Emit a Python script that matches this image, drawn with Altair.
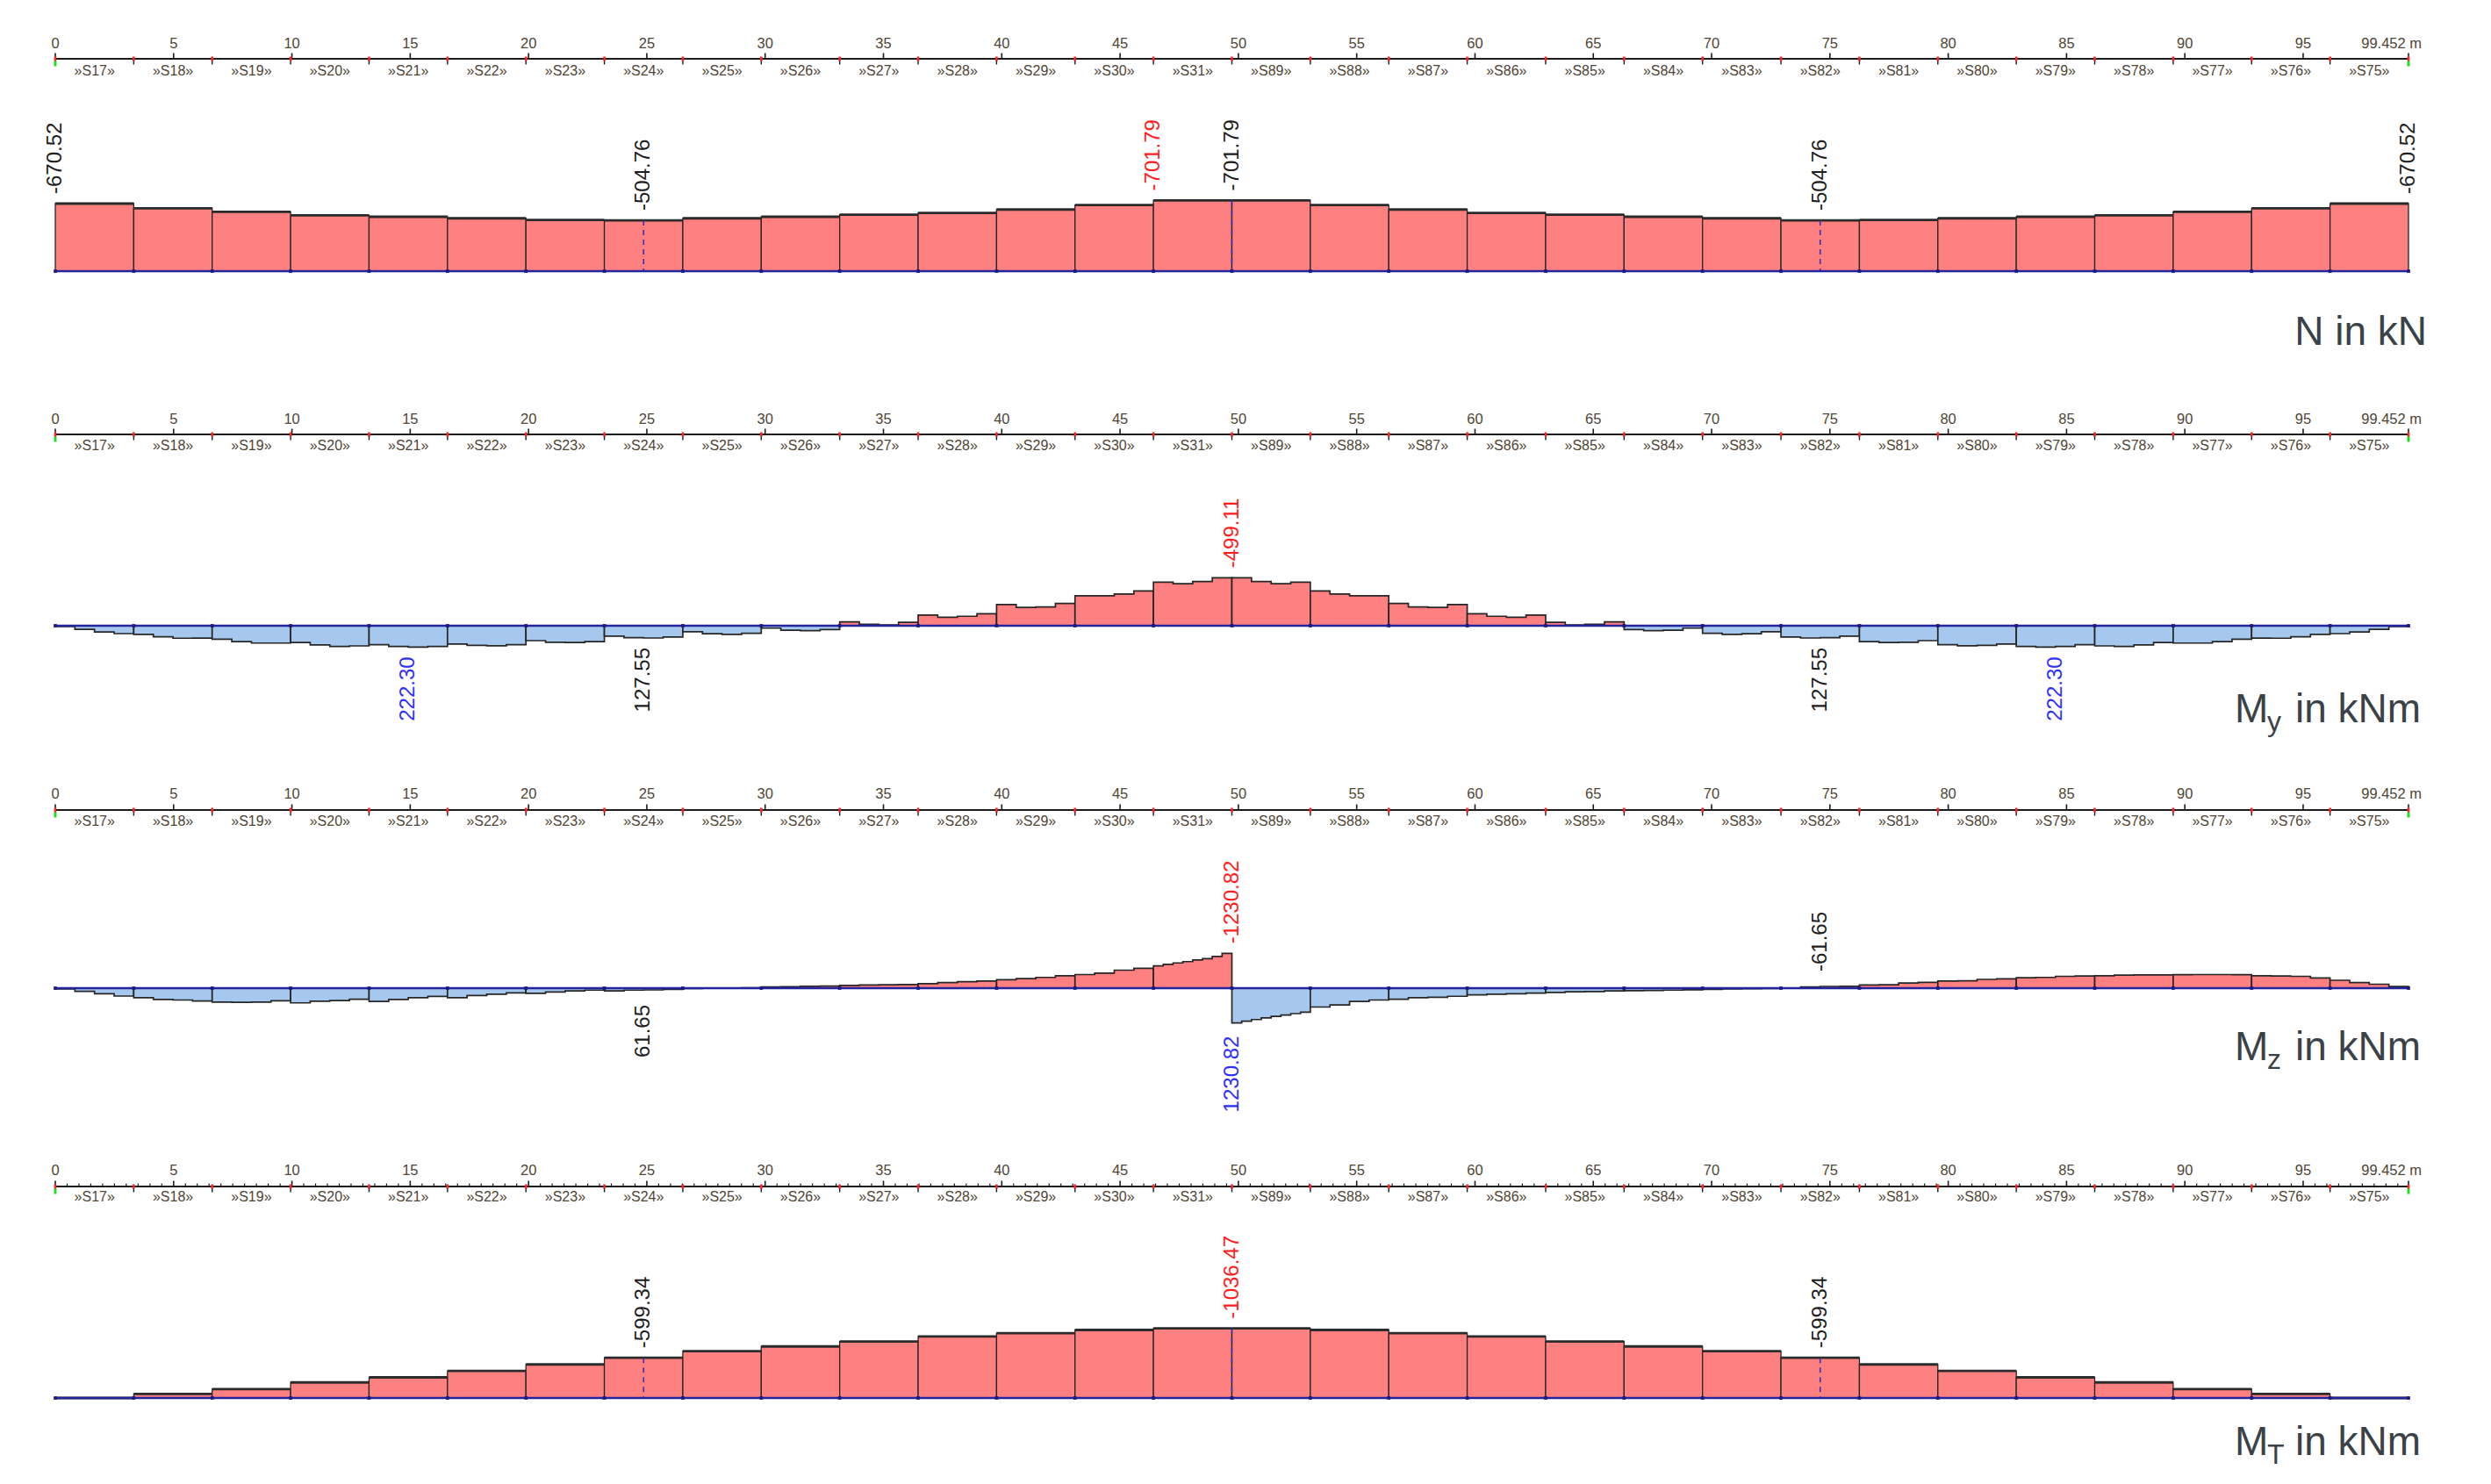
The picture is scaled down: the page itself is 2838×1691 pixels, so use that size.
import altair as alt
import pandas as pd

# ---------------- data ----------------
L = 99.452
SEGMENTS = ["S17", "S18", "S19", "S20", "S21", "S22", "S23", "S24", "S25", "S26",
            "S27", "S28", "S29", "S30", "S31", "S89", "S88", "S87", "S86", "S85",
            "S84", "S83", "S82", "S81", "S80", "S79", "S78", "S77", "S76", "S75"]
TICKS = [0, 5, 10, 15, 20, 25, 30, 35, 40, 45, 50, 55, 60, 65, 70, 75, 80, 85, 90, 95]
TICK_LABELS = ["0", "5", "10", "15", "20", "25", "30", "35", "40", "45", "50", "55",
               "60", "65", "70", "75", "80", "85", "90", "95"]
END_TICK = 99.452
END_LABEL = "99.452 m"

N_VALUES = [-670.52, -624, -589, -555, -540, -525, -508, -504.76, -525, -540,
            -560, -578, -612, -656, -701.79, -701.79, -656, -612, -578, -560,
            -540, -525, -504.76, -508, -525, -540, -555, -589, -624, -670.52]

MT_VALUES = [0, -61, -132, -232, -307, -403, -500, -599.34, -697, -768,
             -842, -917, -965, -1013, -1036.47, -1036.47, -1013, -965, -917, -842,
             -768, -697, -599.34, -500, -403, -307, -232, -132, -61, 0]

MY_VALUES = [
    [8, 38, 65, 82], [90, 115, 130, 128], [140, 165, 180, 180], [175, 200, 215, 210],
    [198, 215, 222.30, 215], [190, 205, 208, 198], [155, 172, 175, 165],
    [108, 124, 127.55, 118], [62, 84, 90, 78], [25, 47, 52, 40],
    [-40, -15, -8, -35], [-110, -88, -98, -125], [-220, -190, -195, -232],
    [-312, -312, -330, -362], [-452, -436, -460, -499.11],
    [-499.11, -460, -436, -452], [-362, -330, -312, -312], [-232, -195, -190, -220],
    [-125, -98, -88, -110], [-35, -8, -15, -40], [40, 52, 47, 25], [78, 90, 84, 62],
    [118, 127.55, 124, 108], [165, 175, 172, 155], [198, 208, 205, 190],
    [215, 222.30, 215, 198], [210, 215, 200, 175], [180, 180, 165, 140],
    [128, 130, 115, 90], [82, 65, 38, 8],
]

MZ_VALUES = [
    [30, 110, 200, 280], [340, 400, 420, 455], [490, 500, 490, 445], [520, 460, 440, 390],
    [470, 400, 340, 290], [340, 260, 215, 170], [185, 135, 100, 70], [95, 70, 61.65, 45],
    [15, 5, 0, -10], [-40, -55, -65, -75], [-95, -110, -120, -130],
    [-160, -200, -230, -250], [-300, -340, -380, -440], [-482, -533, -636, -700],
    [-790, -840, -893, -940, -995, -1046, -1120, -1230.82],
    [1230.82, 1170, 1110, 1050, 1000, 950, 900, 850],
    [667, 595, 472, 420], [390, 339, 320, 287], [236, 215, 200, 175],
    [150, 130, 120, 100], [90, 80, 70, 60], [40, 30, 20, 10], [0, -40, -61.65, -65],
    [-110, -120, -180, -205], [-250, -260, -310, -330], [-370, -380, -420, -430],
    [-440, -460, -470, -470], [-480, -482, -482, -480], [-440, -430, -420, -360],
    [-280, -200, -140, -60],
]

N_LAB_X = [0, 24.863, 46.411, 49.726, 74.589, 99.452]
N_LAB_V = [-670.52, -504.76, -701.79, -701.79, -504.76, -670.52]
N_LAB_T = ["-670.52", "-504.76", "-701.79", "-701.79", "-504.76", "-670.52"]
N_LAB_C = ["black", "black", "red", "black", "black", "black"]

MY_LAB_X = [14.918, 24.863, 49.726, 74.589, 84.534]
MY_LAB_V = [222.30, 127.55, -499.11, 127.55, 222.30]
MY_LAB_T = ["222.30", "127.55", "-499.11", "127.55", "222.30"]
MY_LAB_C = ["blue", "black", "red", "black", "blue"]

MZ_LAB_X = [24.863, 49.726, 49.726, 74.589]
MZ_LAB_V = [61.65, -1230.82, 1230.82, -61.65]
MZ_LAB_T = ["61.65", "-1230.82", "1230.82", "-61.65"]
MZ_LAB_C = ["black", "red", "blue", "black"]

MT_LAB_X = [24.863, 49.726, 74.589]
MT_LAB_V = [-599.34, -1036.47, -599.34]
MT_LAB_T = ["-599.34", "-1036.47", "-599.34"]
MT_LAB_C = ["black", "red", "black"]

# ---------------- style / layout ----------------
FONT = "Liberation Sans"
W, H = 2681, 1670
SEG_LEN = L / len(SEGMENTS)
RED = "#ff8080"
BLUE = "#a6c8ee"
OUT = "#262626"
BASE = "#24249c"
TITLE_C = "#3b4247"
RULER_TXT = "#4f4536"
LAB_COLORS = {"black": "#1e1e1e", "red": "#ff1e1e", "blue": "#2f2fff"}

XS = alt.Scale(domain=[0, L], nice=False, zero=False)


def xq(field):
    return alt.X(field, type="quantitative", scale=XS, axis=None)


def yscale(base, k):
    return alt.Scale(domain=[-base / k, (H - base) / k], reverse=True, nice=False, zero=False)


def ruler(y_lab, y_line, y_seg, minor):
    out = []
    line_df = pd.DataFrame({"x0": [0.0], "x1": [L]})
    out.append(alt.Chart(line_df).mark_rule(color="#1c1c1c", strokeWidth=2).encode(
        x=xq("x0"), x2="x1", y=alt.value(y_line)))
    if minor:
        mdf = pd.DataFrame({"x": [i * 0.5 for i in range(1, 199) if i % 10]})
        out.append(alt.Chart(mdf).mark_rule(color="#1c1c1c", strokeWidth=1.2).encode(
            x=xq("x"), y=alt.value(y_line - 3.5), y2=alt.value(y_line)))
    tdf = pd.DataFrame({"x": TICKS + [END_TICK], "t": TICK_LABELS + [END_LABEL]})
    out.append(alt.Chart(tdf).mark_rule(color="#1c1c1c", strokeWidth=1.6).encode(
        x=xq("x"), y=alt.value(y_line - 6.5), y2=alt.value(y_line)))
    out.append(alt.Chart(tdf.iloc[:-1]).mark_text(
        font=FONT, fontSize=16.5, color=RULER_TXT, align="center", baseline="middle").encode(
        x=xq("x"), y=alt.value(y_lab), text="t:N"))
    out.append(alt.Chart(tdf.iloc[-1:]).mark_text(
        font=FONT, fontSize=16.5, color=RULER_TXT, align="right", baseline="middle", dx=15).encode(
        x=xq("x"), y=alt.value(y_lab), text="t:N"))
    bdf = pd.DataFrame({"x": [i * SEG_LEN for i in range(len(SEGMENTS) + 1)]})
    out.append(alt.Chart(bdf).mark_rule(color="#1c1c1c", strokeWidth=1.4).encode(
        x=xq("x"), y=alt.value(y_line), y2=alt.value(y_line + 6.5)))
    out.append(alt.Chart(bdf).mark_rule(color="#ff2424", strokeWidth=2.6).encode(
        x=xq("x"), y=alt.value(y_line - 2.5), y2=alt.value(y_line + 2.5)))
    gdf = pd.DataFrame({"x": [0.0, L]})
    out.append(alt.Chart(gdf).mark_rule(color="#22dd22", strokeWidth=3).encode(
        x=xq("x"), y=alt.value(y_line + 2.5), y2=alt.value(y_line + 8.5)))
    sdf = pd.DataFrame({"x": [(i + 0.5) * SEG_LEN for i in range(len(SEGMENTS))],
                        "t": ["\u00bb" + s + "\u00bb" for s in SEGMENTS]})
    out.append(alt.Chart(sdf).mark_text(
        font=FONT, fontSize=16, color=RULER_TXT, align="center", baseline="middle").encode(
        x=xq("x"), y=alt.value(y_seg), text="t:N"))
    return out


def label_layers(xs, vs, ts, cs, ys, gap_up=11, gap_down=11, special=None):
    df = pd.DataFrame({"x": xs, "v": vs, "t": ts, "c": [LAB_COLORS[c] for c in cs]})
    special = special or {}
    out = []
    for up in (True, False):
        sub = df[(df.v < 0) == up]
        if len(sub) == 0:
            continue
        normal = sub[~sub.t.isin(list(special))]
        groups = [(normal, gap_up if up else gap_down)]
        for t, g in special.items():
            groups.append((sub[sub.t == t], g))
        for part, g in groups:
            if len(part) == 0:
                continue
            out.append(alt.Chart(part).mark_text(
                font=FONT, fontSize=24, angle=270, baseline="middle",
                align="left" if up else "right", dx=g if up else -g).encode(
                x=xq("x"), y=alt.Y("v:Q", scale=ys, axis=None), text="t:N",
                color=alt.Color("c:N", scale=None)))
    return out


def baseline_layers(ys):
    line_df = pd.DataFrame({"x0": [0.0], "x1": [L]})
    bdf = pd.DataFrame({"x": [i * SEG_LEN for i in range(len(SEGMENTS) + 1)]})
    return [
        alt.Chart(line_df).mark_rule(color=BASE, strokeWidth=2.6).encode(
            x=xq("x0"), x2="x1", y=alt.Y(datum=0, scale=ys, axis=None)),
        alt.Chart(bdf).mark_square(color="#1a1a80", size=14, opacity=1).encode(
            x=xq("x"), y=alt.Y(datum=0, scale=ys, axis=None)),
    ]


def bar_panel(values, ys, lx, lv, lt, lc, markers):
    df = pd.DataFrame({"x0": [i * SEG_LEN for i in range(len(values))],
                       "x1": [(i + 1) * SEG_LEN for i in range(len(values))],
                       "v": values})
    out = [
        alt.Chart(df).mark_rect(fill=RED, stroke=OUT, strokeWidth=1.3).encode(
            x=xq("x0"), x2="x1", y=alt.Y("v:Q", scale=ys, axis=None), y2=alt.datum(0)),
        alt.Chart(df).mark_rule(color="#2b2b2b", strokeWidth=2.8).encode(
            x=xq("x0"), x2="x1", y=alt.Y("v:Q", scale=ys, axis=None)),
    ]
    mdf = pd.DataFrame({"x": [lx[i] for i in markers], "v": [lv[i] for i in markers]})
    out.append(alt.Chart(mdf).mark_rule(color="#3434b0", strokeWidth=1.6, strokeDash=[6, 5]).encode(
        x=xq("x"), y=alt.Y("v:Q", scale=ys, axis=None), y2=alt.datum(0)))
    out += baseline_layers(ys)
    out += label_layers(lx, lv, lt, lc, ys)
    return alt.layer(*out)


def curve_panel(values, ys, lx, lv, lt, lc, special=None):
    rows = []
    for i, vals in enumerate(values):
        m = len(vals)
        for j, v in enumerate(vals):
            rows.append((i, i * SEG_LEN + j * SEG_LEN / m, v))
        rows.append((i, (i + 1) * SEG_LEN, vals[-1]))
    df = pd.DataFrame(rows, columns=["seg", "x", "v"])
    df["neg"] = df["v"].clip(upper=0)
    df["pos"] = df["v"].clip(lower=0)
    out = []
    for field, col in (("neg", RED), ("pos", BLUE)):
        out.append(alt.Chart(df).mark_area(
            interpolate="step-after", fill=col, fillOpacity=1, stroke=OUT, strokeWidth=1.7).encode(
            x=xq("x"), y=alt.Y(field + ":Q", scale=ys, axis=None), y2=alt.datum(0),
            detail="seg:N"))
    out += baseline_layers(ys)
    out += label_layers(lx, lv, lt, lc, ys, special=special)
    return alt.layer(*out)


def title_layers(main, sub, y_base, x_right=2702):
    out = []
    if not sub:
        out.append(alt.Chart(pd.DataFrame({"t": [main]})).mark_text(
            font=FONT, fontSize=46, color=TITLE_C, align="right", baseline="alphabetic").encode(
            x=alt.value(x_right), y=alt.value(y_base), text="t:N"))
        return out
    out.append(alt.Chart(pd.DataFrame({"t": [main]})).mark_text(
        font=FONT, fontSize=46, color=TITLE_C, align="left", baseline="alphabetic").encode(
        x=alt.value(x_right - 219), y=alt.value(y_base), text="t:N"))
    out.append(alt.Chart(pd.DataFrame({"t": [sub]})).mark_text(
        font=FONT, fontSize=32, color=TITLE_C, align="left", baseline="alphabetic").encode(
        x=alt.value(x_right - 182), y=alt.value(y_base + 10), text="t:N"))
    out.append(alt.Chart(pd.DataFrame({"t": ["in kNm"]})).mark_text(
        font=FONT, fontSize=46, color=TITLE_C, align="left", baseline="alphabetic").encode(
        x=alt.value(x_right - 150), y=alt.value(y_base), text="t:N"))
    return out


ys1 = yscale(301, 0.1148)
ys2 = yscale(705, 0.1096)
ys3 = yscale(1118, 0.0322)
ys4 = yscale(1585, 0.0765)

layers = []
layers += ruler(42, 59, 73, False)
layers += ruler(470, 487, 500, False)
layers += ruler(897, 915, 928, False)
layers += ruler(1326, 1344, 1356, True)
layers.append(bar_panel(N_VALUES, ys1, N_LAB_X, N_LAB_V, N_LAB_T, N_LAB_C, [1, 3, 4]))
layers.append(curve_panel(MY_VALUES, ys2, MY_LAB_X, MY_LAB_V, MY_LAB_T, MY_LAB_C))
layers.append(curve_panel(MZ_VALUES, ys3, MZ_LAB_X, MZ_LAB_V, MZ_LAB_T, MZ_LAB_C,
                          special={"61.65": 17, "-61.65": 17, "1230.82": 15}))
layers.append(bar_panel(MT_VALUES, ys4, MT_LAB_X, MT_LAB_V, MT_LAB_T, MT_LAB_C, [0, 1, 2]))
layers += title_layers("N in kN", "", 385)
layers += title_layers("M", "y", 815)
layers += title_layers("M", "z", 1200)
layers += title_layers("M", "T", 1650)

chart = alt.layer(*layers).resolve_scale(y="independent").properties(
    width=W, height=H,
    autosize=alt.AutoSizeParams(type="none"),
    padding={"left": 55, "right": 60, "top": 0, "bottom": 0},
).configure_view(stroke=None)

chart.save("out.html", embed_options={"renderer": "svg", "actions": False})
